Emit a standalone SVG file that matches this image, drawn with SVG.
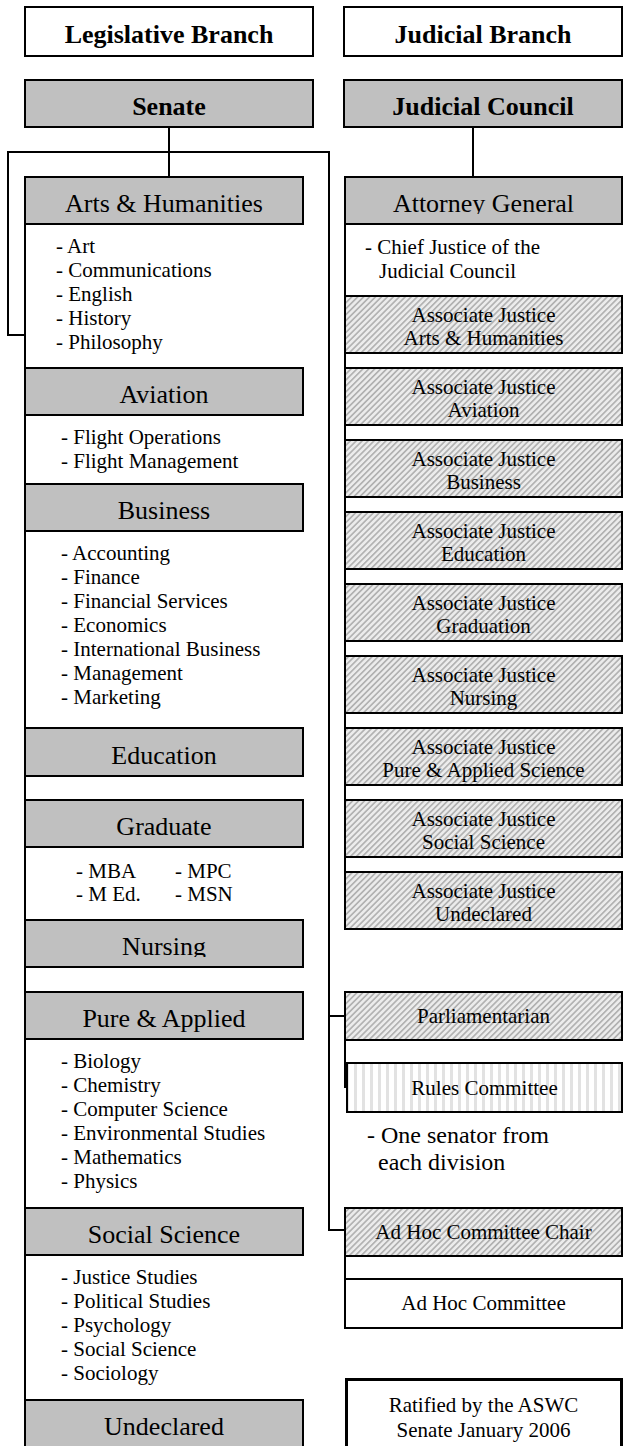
<svg xmlns="http://www.w3.org/2000/svg" width="623" height="1446" viewBox="0 0 623 1446" font-family="Liberation Serif, Times New Roman, DejaVu Serif, serif">
<style>
.bx{stroke:#000;stroke-width:2}
.gray{fill:#c0c0c0}
.white{fill:#fff}
.hat{fill:url(#hatch)}
.vs{fill:url(#vstripe)}
.ln{stroke:#000;stroke-width:2;fill:none}
.hb{font-family:'Liberation Serif',serif;font-size:26px;font-weight:bold;text-anchor:middle;fill:#000}
.h{font-family:'Liberation Serif',serif;font-size:26px;text-anchor:middle;fill:#000}
.i{font-family:'Liberation Serif',serif;font-size:21px;fill:#000}
.c{font-family:'Liberation Serif',serif;font-size:21px;text-anchor:middle;fill:#000}
.n{font-family:'Liberation Serif',serif;font-size:24px;fill:#000}
</style>
<defs>
<pattern id="hatch" width="4.2" height="4.2" patternUnits="userSpaceOnUse" patternTransform="rotate(45)">
<rect width="4.2" height="4.2" fill="#ececec"/>
<rect width="1.7" height="4.2" fill="#b2b2b2"/>
</pattern>
<pattern id="vstripe" width="8" height="8" patternUnits="userSpaceOnUse">
<rect width="8" height="8" fill="#fff"/>
<rect x="2" width="3" height="8" fill="#e2e2e2"/>
</pattern>
<clipPath id="clipAtt"><rect x="345" y="177" width="277" height="37"/></clipPath>
<clipPath id="clipNur"><rect x="25" y="920" width="278" height="37"/></clipPath>
</defs>
<rect width="623" height="1446" fill="#fff"/>

<g id="connectors">
<path class="ln" d="M169 127V177"/>
<path class="ln" d="M8 152H329"/>
<path class="ln" d="M8 151V335H25"/>
<path class="ln" d="M329 151V1230H345"/>
<path class="ln" d="M329 1016H345"/>
<path class="ln" d="M473 127V177"/>
</g>

<g id="legislative-branch">
<rect class="bx white" x="25" y="7" width="288" height="49"/>
<text class="hb" x="169" y="43">Legislative Branch</text>
</g>
<g id="senate">
<rect class="bx gray" x="25" y="80" width="288" height="47"/>
<text class="hb" x="169" y="115">Senate</text>
</g>
<g id="judicial-branch">
<rect class="bx white" x="344" y="7" width="278" height="49"/>
<text class="hb" x="483" y="43">Judicial Branch</text>
</g>
<g id="judicial-council">
<rect class="bx gray" x="344" y="80" width="278" height="47"/>
<text class="hb" x="483" y="115">Judicial Council</text>
</g>

<g id="arts-humanities">
<path class="ln" d="M25 224V368"/>
<rect class="bx gray" x="25" y="177" width="278" height="47"/>
<text class="h" x="164" y="212">Arts &amp; Humanities</text>
<text class="i" x="56" y="253">- Art</text>
<text class="i" x="56" y="277">- Communications</text>
<text class="i" x="56" y="301">- English</text>
<text class="i" x="56" y="325">- History</text>
<text class="i" x="56" y="349">- Philosophy</text>
</g>
<g id="aviation">
<path class="ln" d="M25 415V484"/>
<rect class="bx gray" x="25" y="368" width="278" height="47"/>
<text class="h" x="164" y="403">Aviation</text>
<text class="i" x="61" y="444">- Flight Operations</text>
<text class="i" x="61" y="468">- Flight Management</text>
</g>
<g id="business">
<path class="ln" d="M25 531V728"/>
<rect class="bx gray" x="25" y="484" width="278" height="47"/>
<text class="h" x="164" y="519">Business</text>
<text class="i" x="61" y="560">- Accounting</text>
<text class="i" x="61" y="584">- Finance</text>
<text class="i" x="61" y="608">- Financial Services</text>
<text class="i" x="61" y="632">- Economics</text>
<text class="i" x="61" y="656">- International Business</text>
<text class="i" x="61" y="680">- Management</text>
<text class="i" x="61" y="704">- Marketing</text>
</g>
<g id="education">
<path class="ln" d="M25 776V800"/>
<rect class="bx gray" x="25" y="728" width="278" height="48"/>
<text class="h" x="164" y="764">Education</text>
</g>
<g id="graduate">
<path class="ln" d="M25 847V920"/>
<rect class="bx gray" x="25" y="800" width="278" height="47"/>
<text class="h" x="164" y="835">Graduate</text>
<text class="i" x="76" y="878">- MBA</text>
<text class="i" x="175" y="878">- MPC</text>
<text class="i" x="76" y="901">- M Ed.</text>
<text class="i" x="175" y="901">- MSN</text>
</g>
<g id="nursing">
<path class="ln" d="M25 967V992"/>
<rect class="bx gray" x="25" y="920" width="278" height="47"/>
<text class="h" x="164" y="955" clip-path="url(#clipNur)">Nursing</text>
</g>
<g id="pure-applied">
<path class="ln" d="M25 1039V1208"/>
<rect class="bx gray" x="25" y="992" width="278" height="47"/>
<text class="h" x="164" y="1027">Pure &amp; Applied</text>
<text class="i" x="61" y="1068">- Biology</text>
<text class="i" x="61" y="1092">- Chemistry</text>
<text class="i" x="61" y="1116">- Computer Science</text>
<text class="i" x="61" y="1140">- Environmental Studies</text>
<text class="i" x="61" y="1164">- Mathematics</text>
<text class="i" x="61" y="1188">- Physics</text>
</g>
<g id="social-science">
<path class="ln" d="M25 1255V1400"/>
<rect class="bx gray" x="25" y="1208" width="278" height="47"/>
<text class="h" x="164" y="1243">Social Science</text>
<text class="i" x="61" y="1284">- Justice Studies</text>
<text class="i" x="61" y="1308">- Political Studies</text>
<text class="i" x="61" y="1332">- Psychology</text>
<text class="i" x="61" y="1356">- Social Science</text>
<text class="i" x="61" y="1380">- Sociology</text>
</g>
<g id="undeclared">
<rect class="bx gray" x="25" y="1400" width="278" height="52"/>
<text class="h" x="164" y="1435">Undeclared</text>
</g>

<g id="attorney-general">
<path class="ln" d="M345 224V296"/>
<rect class="bx gray" x="345" y="177" width="277" height="47"/>
<text class="h" x="483.5" y="212" clip-path="url(#clipAtt)">Attorney General</text>
<text class="i" x="365" y="254">- Chief Justice of the</text>
<text class="i" x="379" y="278">Judicial Council</text>
</g>
<g id="aj-arts-humanities">
<path class="ln" d="M345 353V368"/>
<rect class="bx hat" x="345" y="296" width="277" height="57"/>
<text class="c" x="483.5" y="322">Associate Justice</text>
<text class="c" x="483.5" y="345">Arts &amp; Humanities</text>
</g>
<g id="aj-aviation">
<path class="ln" d="M345 425V440"/>
<rect class="bx hat" x="345" y="368" width="277" height="57"/>
<text class="c" x="483.5" y="394">Associate Justice</text>
<text class="c" x="483.5" y="417">Aviation</text>
</g>
<g id="aj-business">
<path class="ln" d="M345 497V512"/>
<rect class="bx hat" x="345" y="440" width="277" height="57"/>
<text class="c" x="483.5" y="466">Associate Justice</text>
<text class="c" x="483.5" y="489">Business</text>
</g>
<g id="aj-education">
<path class="ln" d="M345 569V584"/>
<rect class="bx hat" x="345" y="512" width="277" height="57"/>
<text class="c" x="483.5" y="538">Associate Justice</text>
<text class="c" x="483.5" y="561">Education</text>
</g>
<g id="aj-graduation">
<path class="ln" d="M345 641V656"/>
<rect class="bx hat" x="345" y="584" width="277" height="57"/>
<text class="c" x="483.5" y="610">Associate Justice</text>
<text class="c" x="483.5" y="633">Graduation</text>
</g>
<g id="aj-nursing">
<path class="ln" d="M345 713V728"/>
<rect class="bx hat" x="345" y="656" width="277" height="57"/>
<text class="c" x="483.5" y="682">Associate Justice</text>
<text class="c" x="483.5" y="705">Nursing</text>
</g>
<g id="aj-pure-applied">
<path class="ln" d="M345 785V800"/>
<rect class="bx hat" x="345" y="728" width="277" height="57"/>
<text class="c" x="483.5" y="754">Associate Justice</text>
<text class="c" x="483.5" y="777">Pure &amp; Applied Science</text>
</g>
<g id="aj-social-science">
<path class="ln" d="M345 857V872"/>
<rect class="bx hat" x="345" y="800" width="277" height="57"/>
<text class="c" x="483.5" y="826">Associate Justice</text>
<text class="c" x="483.5" y="849">Social Science</text>
</g>
<g id="aj-undeclared">
<rect class="bx hat" x="345" y="872" width="277" height="57"/>
<text class="c" x="483.5" y="898">Associate Justice</text>
<text class="c" x="483.5" y="921">Undeclared</text>
</g>

<g id="parliamentarian">
<path class="ln" d="M345 1040V1088"/>
<rect class="bx hat" x="345" y="992" width="277" height="48"/>
<text class="c" x="483.5" y="1023">Parliamentarian</text>
</g>
<g id="rules-committee">
<rect class="bx vs" x="347" y="1063" width="275" height="49"/>
<text class="c" x="484.5" y="1095">Rules Committee</text>
<text class="n" x="367" y="1143">- One senator from</text>
<text class="n" x="378" y="1170">each division</text>
</g>
<g id="ad-hoc-chair">
<path class="ln" d="M345 1256V1279"/>
<rect class="bx hat" x="345" y="1208" width="277" height="48"/>
<text class="c" x="483.5" y="1239">Ad Hoc Committee Chair</text>
</g>
<g id="ad-hoc-committee">
<rect class="bx white" x="345" y="1279" width="277" height="49"/>
<text class="c" x="483.5" y="1310">Ad Hoc Committee</text>
</g>
<g id="ratified-note">
<rect x="346.5" y="1379.5" width="275" height="80" fill="#fff" stroke="#000" stroke-width="3"/>
<text class="c" x="483.5" y="1412">Ratified by the ASWC</text>
<text class="c" x="483.5" y="1437">Senate January 2006</text>
</g>
</svg>
